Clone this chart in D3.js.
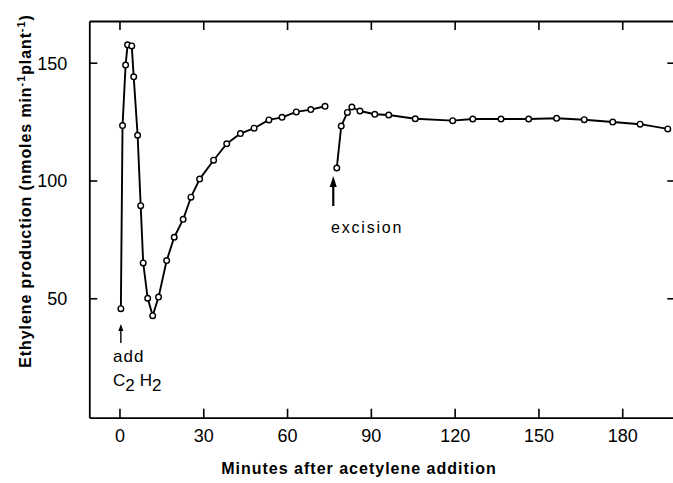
<!DOCTYPE html>
<html>
<head>
<meta charset="utf-8">
<script src="https://cdn.jsdelivr.net/npm/d3@7"></script>
<style>
  html, body { margin: 0; padding: 0; background: #fff; }
  svg { display: block; }
  text { font-family: "Liberation Sans", Arial, sans-serif; fill: #000; }
</style>
</head>
<body>
<svg id="chart" width="673" height="483"></svg>
<script>
// ---- data ----
const seg1Times  = [0.5, 1.1, 2.2, 2.9, 4.4, 5.1, 6.5, 7.6, 8.5, 10.1, 11.9, 14.0, 16.9, 19.6, 22.8, 25.6, 28.7, 33.7, 38.4, 43.3, 48.2, 53.5, 58.2, 63.3, 68.5, 73.6];
const seg1Values = [45.6, 123.3, 149, 157.6, 157.1, 144, 119.2, 89.3, 65, 50, 42.6, 50.5, 66, 75.9, 83.5, 92.9, 100.6, 108.6, 115.6, 119.9, 122.2, 125.7, 126.8, 129.1, 130.1, 131.5];
const seg2Times  = [77.8, 79.4, 81.6, 83.2, 86.1, 91.4, 96.4, 105.9, 119.3, 126.5, 136.6, 146.5, 156.5, 166.4, 176.6, 186.4, 196.3];
const seg2Values = [105.3, 123.1, 128.9, 131.2, 129.5, 128.1, 127.8, 126.2, 125.4, 126.1, 126.1, 126.1, 126.4, 125.8, 124.8, 123.9, 121.9];
const xTicks = [0, 30, 60, 90, 120, 150, 180];
const yTicks = [50, 100, 150];
const xTickLabels = ["0", "30", "60", "90", "120", "150", "180"];
const yTickLabels = ["50", "100", "150"];

// ---- layout ----
const svg = d3.select("#chart");
const x = d3.scaleLinear().domain([-10.8, 199]).range([89.3, 675.3]);
const y = d3.scaleLinear().domain([-0.7, 167.7]).range([417.7, 21]);
const plotLeft = x.range()[0], plotRight = x.range()[1];
const plotTop = y.range()[1], plotBottom = y.range()[0];

// axes (ticks pointing inward on all four sides)
const axB = svg.append("g").attr("transform", `translate(0,${plotBottom})`)
  .call(d3.axisBottom(x).tickValues(xTicks).tickFormat((d, i) => xTickLabels[i])
    .tickSizeInner(-9).tickSizeOuter(0).tickPadding(12));
const axT = svg.append("g").attr("transform", `translate(0,${plotTop})`)
  .call(d3.axisTop(x).tickValues(xTicks).tickFormat("")
    .tickSizeInner(-9).tickSizeOuter(0));
const axL = svg.append("g").attr("transform", `translate(${plotLeft},0)`)
  .call(d3.axisLeft(y).tickValues(yTicks).tickFormat((d, i) => yTickLabels[i])
    .tickSizeInner(-8).tickSizeOuter(0).tickPadding(22));
const axR = svg.append("g").attr("transform", `translate(${plotRight},0)`)
  .call(d3.axisRight(y).tickValues(yTicks).tickFormat("")
    .tickSizeInner(-8).tickSizeOuter(0));

[axB, axT, axL, axR].forEach(g => {
  g.selectAll("path.domain").attr("stroke", "#000").attr("stroke-width", 1.8);
  g.selectAll(".tick line").attr("stroke", "#000").attr("stroke-width", 1.6);
  g.selectAll("text").attr("font-size", 18).attr("font-family", "Liberation Sans, Arial, sans-serif").attr("fill", "#000");
});
axL.selectAll("text").attr("dy", "0.36em");

// ---- series ----
const line = d3.line().x(d => x(d[0])).y(d => y(d[1]));
const seg1 = seg1Times.map((t, i) => [t, seg1Values[i]]);
const seg2 = seg2Times.map((t, i) => [t, seg2Values[i]]);

[seg1, seg2].forEach(seg => {
  svg.append("path").datum(seg).attr("d", line)
    .attr("fill", "none").attr("stroke", "#000").attr("stroke-width", 1.9)
    .attr("stroke-linejoin", "round");
  svg.append("g").selectAll("circle").data(seg).join("circle")
    .attr("cx", d => x(d[0])).attr("cy", d => y(d[1])).attr("r", 2.8)
    .attr("fill", "#fff").attr("stroke", "#000").attr("stroke-width", 1.4);
});

// ---- annotations ----
// "add C2H2" arrow
const ax0 = x(seg1Times[0]);
svg.append("line").attr("x1", ax0).attr("x2", ax0).attr("y1", 343).attr("y2", 329)
  .attr("stroke", "#000").attr("stroke-width", 1.4);
svg.append("path").attr("d", `M${ax0-2.5},331 L${ax0},324 L${ax0+2.5},331 Z`).attr("fill", "#000");
svg.append("text").attr("x", 113).attr("y", 362).attr("font-size", 17).attr("letter-spacing", 1)
  .text("add");
const c2h2 = svg.append("text").attr("x", 113).attr("y", 386).attr("font-size", 17);
c2h2.append("tspan").text("C");
c2h2.append("tspan").attr("dy", 5).text("2");
c2h2.append("tspan").attr("dy", -5).attr("dx", 5).text("H");
c2h2.append("tspan").attr("dy", 5).text("2");

// "excision" arrow
const ex = x(seg2Times[0]) - 3.5;
svg.append("line").attr("x1", ex).attr("x2", ex).attr("y1", 206).attr("y2", 184)
  .attr("stroke", "#000").attr("stroke-width", 2.2);
svg.append("path").attr("d", `M${ex-3.5},187 L${ex},176 L${ex+3.5},187 Z`).attr("fill", "#000");
svg.append("text").attr("x", 331).attr("y", 233).attr("font-size", 16).attr("letter-spacing", 1.8)
  .text("excision");

// ---- axis titles ----
svg.append("text").attr("x", 359).attr("y", 474).attr("text-anchor", "middle")
  .attr("font-size", 16).attr("font-weight", "bold").attr("letter-spacing", 1.0)
  .text("Minutes after acetylene addition");

const yt = svg.append("text").attr("transform", "translate(31,191) rotate(-90)")
  .attr("text-anchor", "middle").attr("font-size", 16).attr("font-weight", "bold")
  .attr("letter-spacing", 0.9);
yt.append("tspan").text("Ethylene production (nmoles min");
yt.append("tspan").attr("font-size", 11).attr("dy", -6).text("-1");
yt.append("tspan").attr("dy", 6).text("plant");
yt.append("tspan").attr("font-size", 11).attr("dy", -6).text("-1");
yt.append("tspan").attr("dy", 6).text(")");
</script>
</body>
</html>
